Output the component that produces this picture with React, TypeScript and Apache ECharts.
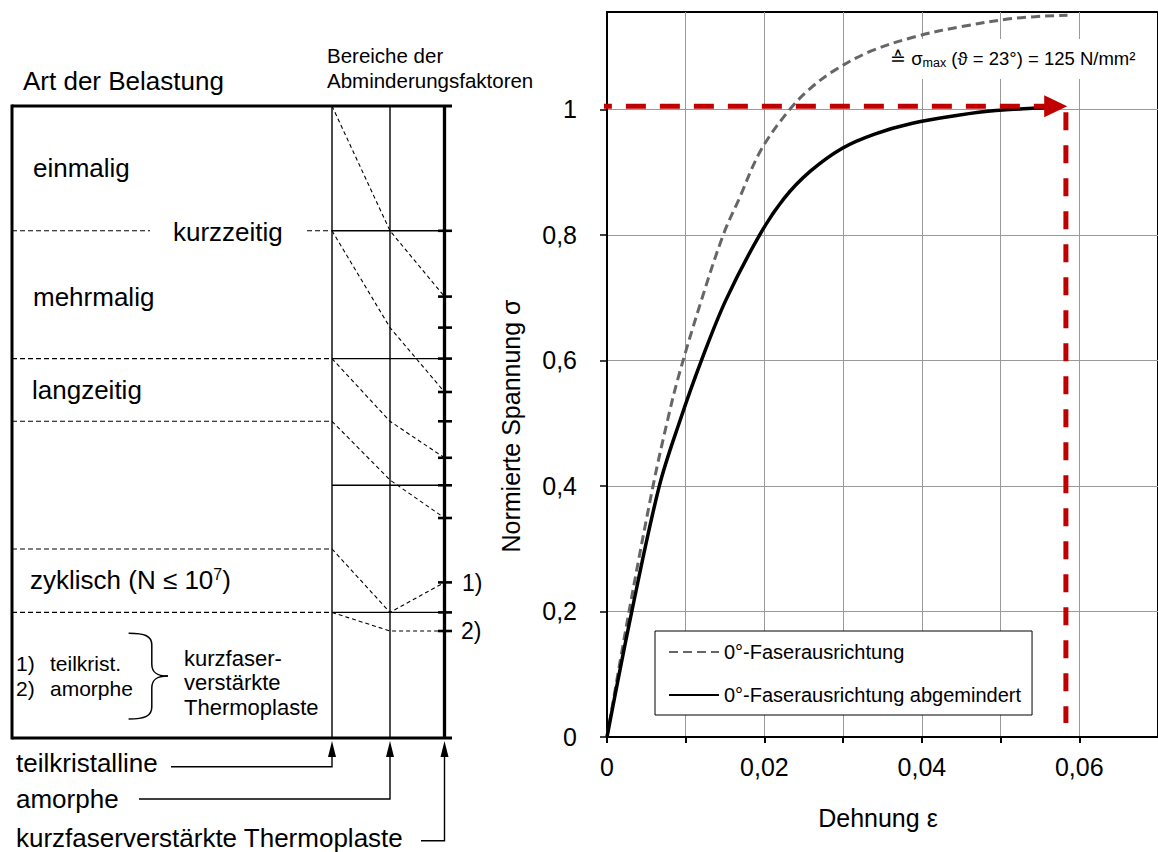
import React, { useEffect, useRef } from 'react';
import * as echarts from 'echarts';

const FONT = '"Liberation Sans", Arial, Helvetica, sans-serif';

// Strain (epsilon) / normalised stress (sigma)
const epsFull = [0, 0.0028, 0.00585, 0.0077, 0.0091, 0.012, 0.01477, 0.0167, 0.01956, 0.0231, 0.0258, 0.0289, 0.0335, 0.0393, 0.045, 0.0518, 0.0585];
const sigmaFull = [0, 0.2, 0.4, 0.505, 0.575, 0.696, 0.8, 0.855, 0.935, 0.998, 1.033, 1.062, 1.0925, 1.1162, 1.1316, 1.145, 1.15];
const epsReduced = [0, 0.00315, 0.00665, 0.0093, 0.012, 0.0151, 0.0194, 0.0225, 0.0258, 0.0299, 0.034, 0.0388, 0.0446, 0.0494, 0.0565];
const sigmaReduced = [0, 0.2, 0.4, 0.505, 0.6, 0.696, 0.8, 0.858, 0.901, 0.938, 0.9605, 0.9777, 0.9905, 0.998, 1.003];

const seriesNames = ['0°-Faserausrichtung', '0°-Faserausrichtung abgemindert'];

// axis ticks / labels
const xTickValues = [0, 0.01, 0.02, 0.03, 0.04, 0.05, 0.06];
const xLabelValues = [0, 0.02, 0.04, 0.06];
const yTickValues = [0, 0.2, 0.4, 0.6, 0.8, 1];

// red guide (sigma_max reference)
const guideSigma = 1.005;
const guideEps = 0.0583;
const guideStartEps = -0.0192;
const guideEndSigma = 0.0225;
const arrowEps = 0.0570;

const annotationText = '≙ σ{sub|max} (ϑ = 23°) = 125 N/mm²';

const fmt = (v: number) => String(Number(v.toFixed(4))).replace('.', ',');

function line(x1: number, y1: number, x2: number, y2: number, w = 1.5, dash?: number[]) {
  return { type: 'line', silent: true, shape: { x1, y1, x2, y2 }, style: { stroke: '#000', lineWidth: w, lineDash: dash || null } };
}
function poly(points: number[][], w = 1.2, dash?: number[]) {
  return { type: 'polyline', silent: true, shape: { points }, style: { stroke: '#000', fill: null, lineWidth: w, lineDash: dash || null } };
}
function txt(text: string, x: number, y: number, size: number, extra: any = {}) {
  return {
    type: 'text', silent: true,
    style: {
      text, x, y, fill: '#000', fontSize: size, fontFamily: FONT,
      align: 'left', textAlign: 'left', verticalAlign: 'middle', textVerticalAlign: 'middle', ...extra,
    },
  };
}
function arrowUp(x: number) {
  return { type: 'polygon', silent: true, shape: { points: [[x - 4, 757], [x, 741], [x + 4, 757]] }, style: { fill: '#000' } };
}
function bez(x1: number, y1: number, c1x: number, c1y: number, c2x: number, c2y: number, x2: number, y2: number) {
  return { type: 'bezierCurve', silent: true, shape: { x1, y1, cpx1: c1x, cpy1: c1y, cpx2: c2x, cpy2: c2y, x2, y2 }, style: { stroke: '#000', fill: null, lineWidth: 1.5 } };
}

function buildDiagram() {
  const dash = [5, 3];
  const colA = 332, colB = 390, colC = 444.5;
  const els: any[] = [];
  // outer frame
  els.push(line(12, 106, 452, 106, 3));
  els.push(line(12, 104.5, 12, 739.5, 3));
  els.push(line(12, 738, 452, 738, 3));
  els.push(line(colC, 106, colC, 738, 3.3));
  // columns
  els.push(line(colA, 106, colA, 738, 1.4));
  els.push(line(colB, 106, colB, 738, 1.4));
  // solid horizontal in columns
  [230.8, 358.6, 485.3, 612.4].forEach((y) => els.push(line(colA, y, colC, y, 1.4)));
  // dashed horizontal separators
  [358.6, 421.3, 549, 612.4].forEach((y) => els.push(line(12, y, colA, y, 1.1, dash)));
  els.push(line(12, 230.8, 150, 230.8, 1.1, dash));
  els.push(line(307, 230.8, colA, 230.8, 1.1, dash));
  // ticks on right line
  [230.8, 296.6, 327.6, 358.6, 392, 421.3, 457.8, 485.3, 518, 582.4, 612.4, 631].forEach((y) =>
    els.push(line(438, y, 452, y, 2.6)));
  // diagonal ranges
  els.push(poly([[colA, 106], [colB, 230.8], [colC, 296.6]], 1.1, [4, 3]));
  els.push(poly([[colA, 230.8], [colB, 327.6], [colC, 392]], 1.1, [4, 3]));
  els.push(poly([[colA, 358.6], [colB, 421.3], [colC, 457.8]], 1.1, [4, 3]));
  els.push(poly([[colA, 421.3], [colB, 480], [colC, 518]], 1.1, [4, 3]));
  els.push(poly([[colA, 549], [colB, 612.4], [colC, 582.4]], 1.1, [4, 3]));
  els.push(poly([[colA, 612.4], [colB, 631], [colC, 631]], 1.1, [4, 3]));
  // leaders
  els.push(poly([[171, 766.7], [colA, 766.7], [colA, 755]], 1.4));
  els.push(poly([[139, 799], [colB, 799], [colB, 755]], 1.4));
  els.push(poly([[421, 840.7], [colC, 840.7], [colC, 755]], 1.4));
  els.push(arrowUp(colA), arrowUp(colB), arrowUp(colC));
  // brace
  els.push(bez(128.6, 633.3, 145, 633.3, 151.8, 636, 151.8, 645));
  els.push(line(151.8, 645, 151.8, 664, 1.5));
  els.push(bez(151.8, 664, 151.8, 672, 156, 676, 167.9, 676));
  els.push(bez(167.9, 676, 156, 676, 151.8, 680, 151.8, 688));
  els.push(line(151.8, 688, 151.8, 707, 1.5));
  els.push(bez(151.8, 707, 151.8, 716, 145, 719, 128.6, 719));
  // texts
  els.push(txt('Art der Belastung', 23, 81, 26));
  els.push(txt('Bereiche der', 327, 55, 20.5));
  els.push(txt('Abminderungsfaktoren', 327, 80, 20.5));
  els.push(txt('einmalig', 33, 168, 26));
  els.push(txt('kurzzeitig', 173, 232, 26));
  els.push(txt('mehrmalig', 33, 297, 26));
  els.push(txt('langzeitig', 32, 390, 26));
  els.push(txt('zyklisch (N ≤ 10{sup|7})', 30, 580, 26, { rich: { sup: { fontSize: 16, fontFamily: FONT, fill: '#000', padding: [0, 0, 12, 0] } } }));
  els.push(txt('1)', 16, 663, 21));
  els.push(txt('teilkrist.', 50, 663, 21));
  els.push(txt('2)', 16, 688, 21));
  els.push(txt('amorphe', 50, 688, 21));
  els.push(txt('kurzfaser-', 184, 658, 22));
  els.push(txt('verstärkte', 184, 682, 22));
  els.push(txt('Thermoplaste', 184, 707, 22));
  els.push(txt('1)', 462, 583, 23));
  els.push(txt('2)', 461, 631, 23));
  els.push(txt('teilkristalline', 16, 763, 26));
  els.push(txt('amorphe', 16, 799, 26));
  els.push(txt('kurzfaserverstärkte Thermoplaste', 16, 838, 26));
  // axis names of the chart
  els.push({
    type: 'text', silent: true, x: 511, y: 426, rotation: Math.PI / 2,
    style: { text: 'Normierte Spannung σ', x: 0, y: 0, fill: '#000', fontSize: 25, fontFamily: FONT, align: 'center', textAlign: 'center', verticalAlign: 'middle', textVerticalAlign: 'middle' },
  });
  els.push(txt('Dehnung ε', 878, 818, 25, { align: 'center', textAlign: 'center' }));
  // annotation (above grid lines, below the curves)
  els.push({
    type: 'text', silent: true, z: 1,
    style: {
      text: annotationText, x: 884, y: 59, fill: '#000', fontSize: 18.5, fontFamily: FONT,
      align: 'left', textAlign: 'left', verticalAlign: 'middle', textVerticalAlign: 'middle',
      backgroundColor: '#fff', padding: [9, 8, 10, 6],
      rich: { sub: { fontSize: 12.5, fontFamily: FONT, fill: '#000', padding: [8, 0, 0, 0] } },
    },
  });
  return els;
}

export default function App() {
  const ref = useRef<HTMLDivElement>(null);
  useEffect(() => {
    if (!ref.current) return;
    const chart = echarts.init(ref.current, undefined, { renderer: 'svg' });
    const axisCommon = {
      type: 'value',
      axisLine: { show: true, onZero: false, lineStyle: { color: '#000', width: 2 } },
      splitLine: { show: true, lineStyle: { color: '#999', width: 1 } },
    };
    const option: any = {
      animation: false,
      textStyle: { fontFamily: FONT },
      grid: { left: 607, top: 12, right: -5, bottom: 115, show: true, borderColor: '#000', borderWidth: 2, backgroundColor: 'transparent' },
      xAxis: {
        ...axisCommon, min: 0, max: 0.07, interval: 0.02,
        axisTick: { show: true, customValues: xTickValues, length: 6, lineStyle: { color: '#000', width: 2 } },
        axisLabel: { customValues: xLabelValues, margin: 17, fontSize: 25, color: '#000', fontFamily: FONT, formatter: fmt },
      },
      yAxis: {
        ...axisCommon, min: 0, max: 1.155, interval: 0.2,
        axisTick: { show: true, customValues: yTickValues, length: 7, lineStyle: { color: '#000', width: 1.5 } },
        axisLabel: { customValues: yTickValues, margin: 30, fontSize: 25, color: '#000', fontFamily: FONT, formatter: fmt },
      },
      legend: {
        data: seriesNames, orient: 'vertical', left: 655, top: 631,
        backgroundColor: '#fff', borderColor: '#000', borderWidth: 1,
        padding: [11, 11, 10, 13], itemGap: 23, itemWidth: 50, itemHeight: 14,
        itemStyle: { opacity: 0 },
        textStyle: { fontSize: 20, color: '#000', fontFamily: FONT },
        z: 20,
      },
      series: [
        {
          name: seriesNames[0], type: 'line', data: epsFull.map((e, i) => [e, sigmaFull[i]]),
          symbol: 'none', smooth: 0.35, z: 3,
          lineStyle: { color: '#666', width: 3, type: [9, 5] }, itemStyle: { color: '#666' },
        },
        {
          name: seriesNames[1], type: 'line', data: epsReduced.map((e, i) => [e, sigmaReduced[i]]),
          symbol: 'none', smooth: 0.35, z: 4,
          lineStyle: { color: '#000', width: 3.5 }, itemStyle: { color: '#000' },
        },
        {
          name: 'guideH', type: 'line', clip: false, symbol: 'none', z: 6, silent: true,
          data: [[guideStartEps, guideSigma], [arrowEps, guideSigma]],
          lineStyle: { color: '#c00000', width: 5, type: [20, 14] },
        },
        {
          name: 'guideV', type: 'line', clip: false, symbol: 'none', z: 6, silent: true,
          data: [[guideEps, guideSigma], [guideEps, guideEndSigma]],
          lineStyle: { color: '#c00000', width: 5, type: [18, 15], dashOffset: -6 },
        },
        {
          name: 'guideArrow', type: 'scatter', clip: false, z: 7, silent: true,
          data: [[arrowEps, guideSigma]], symbol: 'triangle', symbolSize: [22, 23], symbolRotate: -90,
          itemStyle: { color: '#c00000', opacity: 1 },
        },
      ],
      graphic: buildDiagram(),
    };
    chart.setOption(option);
    return () => chart.dispose();
  }, []);
  return <div ref={ref} style={{ position: 'fixed', left: 0, top: 0, width: 1158, height: 852, background: '#fff' }} />;
}
